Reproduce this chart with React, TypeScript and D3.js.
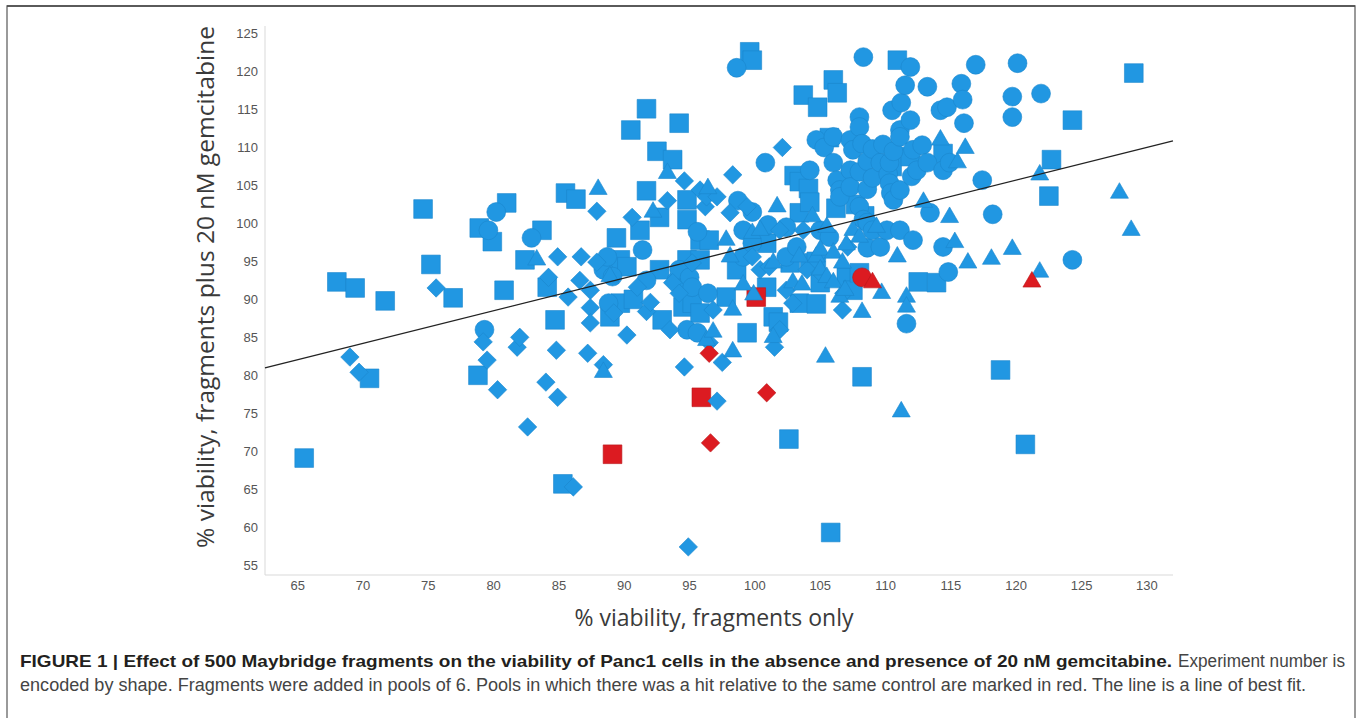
import * as d3 from "d3";

// Experiment number is encoded by shape; hits are the red ones.
const squares: [number, number][] = [
  [65.5, 69.1], [68.0, 92.3], [69.4, 91.5], [70.5, 79.6], [71.7, 89.8], [74.6, 101.9], [75.2, 94.6],
  [76.9, 90.2], [78.8, 80.0], [78.9, 99.4], [79.9, 97.6], [80.8, 91.2], [81.0, 102.7], [82.4, 95.2],
  [83.7, 99.1], [84.1, 91.6], [84.7, 87.3], [85.3, 65.7], [85.5, 104.0], [86.3, 103.2], [88.9, 87.7],
  [89.4, 98.1], [89.7, 89.5], [89.7, 95.2], [90.2, 94.3], [90.5, 112.3], [90.7, 90.0], [91.2, 99.1],
  [91.7, 104.3], [91.7, 115.1], [92.5, 109.5], [92.7, 93.9], [92.7, 100.8], [92.9, 87.3], [93.7, 108.4],
  [94.2, 113.2], [94.8, 103.1], [94.5, 89.0], [94.8, 95.2], [94.8, 100.5], [95.2, 89.5], [95.8, 88.2],
  [95.8, 95.2], [95.8, 97.8], [96.5, 97.8], [97.8, 90.3], [98.6, 93.9], [99.4, 85.6], [99.6, 122.6],
  [99.8, 121.5], [100.9, 91.6], [100.9, 97.4], [101.4, 87.7], [101.8, 87.0], [102.6, 71.6], [102.7, 94.8],
  [103.0, 106.3], [103.4, 89.5], [103.4, 101.4], [103.4, 105.5], [103.7, 116.9], [104.1, 104.6],
  [104.2, 94.8], [104.2, 102.8], [104.7, 89.4], [104.7, 95.0], [104.8, 115.3], [105.0, 92.2],
  [105.7, 111.3], [105.8, 59.3], [106.0, 118.9], [106.2, 102.0], [106.3, 117.2], [106.7, 104.4],
  [107.0, 92.9], [107.5, 91.2], [107.7, 102.5], [108.0, 93.5], [108.2, 79.8], [108.4, 101.0],
  [110.5, 107.5], [110.9, 121.5], [111.9, 108.8], [112.5, 92.3], [113.9, 92.2], [114.4, 109.2],
  [118.8, 80.7], [120.7, 70.9], [122.5, 103.6], [122.7, 108.4], [124.3, 113.6], [129.0, 119.8],
];

const circles: [number, number][] = [
  [79.3, 86.0], [79.6, 99.1], [80.2, 101.5], [82.9, 98.1], [88.4, 93.9], [88.7, 95.6], [88.8, 89.5],
  [89.1, 93.0], [91.4, 96.5], [91.7, 92.5], [94.0, 92.5], [94.2, 93.9], [94.8, 86.0], [95.0, 92.9],
  [95.2, 91.6], [95.6, 98.9], [95.6, 85.6], [96.4, 90.8], [98.6, 120.5], [98.7, 103.0], [99.1, 99.1],
  [99.1, 95.6], [99.8, 101.5], [99.8, 97.4], [100.8, 108.0], [101.0, 99.8], [102.4, 99.5], [102.4, 95.6],
  [103.2, 96.9], [104.2, 107.0], [104.7, 111.0], [105.0, 99.1], [105.3, 110.0], [105.7, 98.2],
  [106.0, 111.4], [106.0, 108.0], [106.3, 105.7], [106.5, 104.4], [106.5, 103.5], [107.3, 111.0],
  [107.3, 107.0], [107.3, 104.8], [107.5, 109.7], [108.0, 114.0], [108.0, 112.7], [108.0, 106.8],
  [108.0, 102.2], [108.2, 110.5], [108.3, 121.9], [108.3, 100.5], [108.6, 108.2], [108.6, 104.5],
  [108.6, 100.1], [108.6, 96.8], [109.0, 109.8], [109.0, 106.0], [109.0, 99.1], [109.6, 108.0],
  [109.6, 96.9], [109.8, 110.4], [110.1, 99.1], [110.2, 106.5], [110.3, 108.0], [110.3, 105.3],
  [110.4, 104.0], [110.5, 114.9], [110.6, 109.5], [110.6, 103.1], [111.1, 112.3], [111.1, 111.4],
  [111.1, 104.4], [111.1, 99.1], [111.2, 115.9], [111.5, 118.2], [111.6, 86.8], [111.9, 120.6],
  [111.9, 113.6], [112.0, 106.2], [112.1, 109.7], [112.1, 97.8], [112.4, 107.0], [112.8, 110.3],
  [113.2, 118.0], [113.2, 108.0], [113.4, 101.4], [114.2, 114.9], [114.4, 107.0], [114.4, 96.9],
  [114.7, 115.3], [114.8, 93.6], [114.9, 108.0], [115.8, 118.4], [115.9, 116.3], [116.0, 113.2],
  [116.9, 120.9], [117.4, 105.7], [118.2, 101.2], [119.7, 116.7], [119.7, 114.0], [120.1, 121.1],
  [121.9, 117.1], [124.3, 95.2],
];

const diamonds: [number, number][] = [
  [69.0, 82.4], [69.7, 80.4], [75.6, 91.5], [79.2, 84.4], [79.5, 82.0], [80.3, 78.1], [81.8, 83.7],
  [82.0, 85.0], [82.6, 73.2], [84.0, 79.1], [84.2, 92.9], [84.8, 83.3], [84.9, 77.1], [84.9, 95.6],
  [85.7, 90.3], [86.1, 65.3], [86.6, 92.5], [86.7, 95.6], [87.2, 82.9], [87.4, 91.2], [87.4, 88.9],
  [87.4, 86.9], [87.9, 101.6], [87.9, 94.9], [88.4, 81.4], [89.2, 88.2], [90.2, 85.3], [90.6, 100.8],
  [91.0, 91.6], [91.7, 88.4], [92.0, 89.6], [93.3, 103.0], [93.5, 86.0], [93.7, 92.2], [94.2, 90.8],
  [94.6, 105.6], [94.6, 81.1], [94.9, 57.4], [95.2, 94.8], [95.8, 104.4], [96.2, 102.2], [96.3, 103.5],
  [96.5, 84.3], [96.8, 88.6], [97.1, 76.6], [97.1, 103.5], [97.5, 81.7], [98.1, 101.4], [98.3, 106.4],
  [99.4, 102.2], [99.8, 95.6], [100.4, 93.9], [101.1, 94.3], [101.5, 83.7], [101.9, 86.0], [101.9, 99.1],
  [102.1, 110.0], [102.4, 91.2], [102.9, 89.5], [103.7, 99.1], [104.0, 93.9], [105.0, 93.5],
  [106.7, 88.6], [106.8, 90.8], [107.1, 96.9],
];

const triangles: [number, number][] = [
  [83.3, 95.2], [88.0, 104.5], [88.4, 80.4], [88.9, 93.0], [92.2, 101.5], [93.3, 106.6], [96.3, 84.6],
  [96.4, 104.6], [96.8, 85.7], [97.8, 97.8], [98.1, 95.6], [98.3, 83.1], [98.3, 88.6], [99.1, 91.9],
  [99.8, 98.7], [99.9, 90.6], [100.4, 99.1], [101.4, 85.0], [101.4, 94.8], [101.7, 102.2], [102.9, 92.2],
  [103.4, 95.6], [103.6, 91.9], [104.4, 100.9], [104.7, 95.6], [105.0, 96.5], [105.0, 93.9], [105.4, 82.4],
  [105.5, 99.5], [105.5, 92.9], [106.0, 96.1], [106.0, 92.2], [106.5, 90.3], [106.7, 94.8], [106.9, 91.2],
  [107.0, 97.2], [107.5, 99.1], [108.0, 98.2], [108.2, 88.3], [109.3, 99.5], [109.7, 90.8], [110.9, 95.6],
  [111.2, 75.2], [111.6, 90.3], [111.6, 89.0], [112.9, 102.8], [114.2, 111.0], [114.9, 100.8],
  [115.3, 97.5], [115.5, 108.0], [116.1, 109.9], [116.3, 94.8], [118.1, 95.3], [119.7, 96.6],
  [121.8, 106.4], [121.8, 93.6], [127.9, 104.0], [128.8, 99.1],
];

const hitSquares: [number, number][] = [[89.1, 69.6], [95.9, 77.1], [100.1, 90.3]];
const hitCircles: [number, number][] = [[108.2, 92.9]];
const hitDiamonds: [number, number][] = [[96.5, 82.9], [96.6, 71.1], [100.9, 77.7]];
const hitTriangles: [number, number][] = [[109.0, 92.2], [121.2, 92.3]];

const xTicks = [65, 70, 75, 80, 85, 90, 95, 100, 105, 110, 115, 120, 125, 130];
const yTicks = [55, 60, 65, 70, 75, 80, 85, 90, 95, 100, 105, 110, 115, 120, 125];

// line of best fit: y = intercept + slope * x
const fit = { intercept: 54.1, slope: 0.43 };

const BLUE = "#2197e2";
const RED = "#dc1b21";

// square rotated by 45 degrees
const squareDiamond = {
  draw(ctx: any, size: number) {
    const r = Math.sqrt(size / 2);
    ctx.moveTo(0, -r);
    ctx.lineTo(r, 0);
    ctx.lineTo(0, r);
    ctx.lineTo(-r, 0);
    ctx.closePath();
  },
};

export default function App() {
  const width = 1360;
  const height = 718;

  const x = d3.scaleLinear().domain([62.5, 132]).range([265, 1173]);
  const y = d3.scaleLinear().domain([53.7, 126]).range([575, 26]);

  const sq = d3.symbol(d3.symbolSquare, 350)();
  const ci = d3.symbol(d3.symbolCircle, 280)();
  const di = d3.symbol(squareDiamond as any, 170)();
  const tr = d3.symbol(d3.symbolTriangle, 140)();

  const layers: { pts: [number, number][]; path: string | null; fill: string; stroke: string }[] = [
    { pts: squares, path: sq, fill: BLUE, stroke: "#1b86cc" },
    { pts: hitSquares, path: sq, fill: RED, stroke: "#b8151a" },
    { pts: circles, path: ci, fill: BLUE, stroke: "#1b86cc" },
    { pts: hitCircles, path: ci, fill: RED, stroke: "#b8151a" },
    { pts: diamonds, path: di, fill: BLUE, stroke: "#1b86cc" },
    { pts: hitDiamonds, path: di, fill: RED, stroke: "#b8151a" },
    { pts: triangles, path: tr, fill: BLUE, stroke: "#1b86cc" },
    { pts: hitTriangles, path: tr, fill: RED, stroke: "#b8151a" },
  ];

  const [x0, x1] = x.domain();
  const line = d3.line()([
    [x(x0), y(fit.intercept + fit.slope * x0)],
    [x(x1), y(fit.intercept + fit.slope * x1)],
  ]);

  const captionFont = "Liberation Sans, Arial, sans-serif";

  return (
    <svg
      width={width}
      height={height}
      style={{ position: "absolute", left: 0, top: 0, background: "#fff" }}
    >
      {/* frame */}
      <path d="M7,740 V6 H1355 V740" fill="none" stroke="#7a7a7a" strokeWidth={1.5} />
      <line x1={7} x2={1355} y1={6} y2={6} stroke="#444" strokeWidth={1.5} />

      {/* axes */}
      <line x1={265} x2={265} y1={y(126)} y2={y(53.7)} stroke="#d9d9d9" />
      <line x1={265} x2={x(132)} y1={y(53.7)} y2={y(53.7)} stroke="#d9d9d9" />

      {yTicks.map((t) => (
        <text
          key={"y" + t}
          x={258}
          y={y(t)}
          dy="0.35em"
          textAnchor="end"
          fontFamily="Liberation Sans, Arial, sans-serif"
          fontSize={13}
          fill="#555"
        >
          {t}
        </text>
      ))}
      {xTicks.map((t) => (
        <text
          key={"x" + t}
          x={x(t)}
          y={590}
          textAnchor="middle"
          fontFamily="Liberation Sans, Arial, sans-serif"
          fontSize={13}
          fill="#555"
        >
          {t}
        </text>
      ))}

      {/* marks */}
      {layers.map((l, i) => (
        <g key={i} fill={l.fill} stroke={l.stroke} strokeWidth={0.6}>
          {l.pts.map((d, j) => (
            <path key={j} d={l.path || ""} transform={`translate(${x(d[0])},${y(d[1])})`} />
          ))}
        </g>
      ))}

      <path d={line || ""} stroke="#222" strokeWidth={1.3} fill="none" />

      {/* axis titles */}
      <text
        transform="translate(214,287) rotate(-90)"
        textAnchor="middle"
        fontFamily="Open Sans, sans-serif"
        fontSize={23}
        fill="#3a3a3a"
        textLength={522}
        lengthAdjust="spacingAndGlyphs"
      >
        % viability, fragments plus 20 nM gemcitabine
      </text>
      <text
        x={714}
        y={626}
        textAnchor="middle"
        fontFamily="Open Sans, sans-serif"
        fontSize={23}
        fill="#3a3a3a"
        textLength={279}
        lengthAdjust="spacingAndGlyphs"
      >
        % viability, fragments only
      </text>

      {/* caption */}
      <text
        x={20}
        y={667}
        fontFamily={captionFont}
        fontWeight="bold"
        fontSize={17}
        fill="#231f20"
        textLength={1152}
        lengthAdjust="spacingAndGlyphs"
      >
        FIGURE 1 | Effect of 500 Maybridge fragments on the viability of Panc1 cells in the absence and presence of 20 nM gemcitabine.
      </text>
      <text
        x={1178}
        y={667}
        fontFamily={captionFont}
        fontSize={17.5}
        fill="#444"
        textLength={167}
        lengthAdjust="spacingAndGlyphs"
      >
        Experiment number is
      </text>
      <text
        x={20}
        y={691}
        fontFamily={captionFont}
        fontSize={17.5}
        fill="#444"
        textLength={1286}
        lengthAdjust="spacingAndGlyphs"
      >
        encoded by shape. Fragments were added in pools of 6. Pools in which there was a hit relative to the same control are marked in red. The line is a line of best fit.
      </text>
    </svg>
  );
}
